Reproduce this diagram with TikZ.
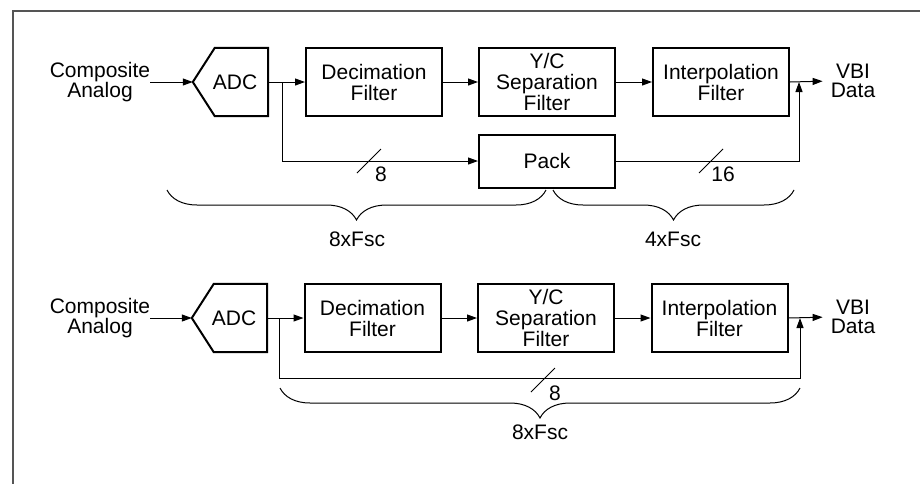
\documentclass[tikz,border=0pt]{standalone}
\usepackage{fontspec}
\setmainfont{Liberation Sans}
\usetikzlibrary{arrows.meta,decorations.pathreplacing}

\definecolor{framegray}{RGB}{85,85,85}

\tikzset{
	block/.style={draw,line width=2pt,minimum width=136pt,minimum height=68pt,align=center,inner sep=0pt},
	adcbox/.style={inner sep=0pt,minimum width=75pt,minimum height=68pt},
	iotext/.style={align=center,inner sep=0pt},
	sig/.style={line width=1pt,-{Triangle[length=10pt,width=7pt]}},
	wire/.style={line width=1pt},
	fscbrace/.style={line width=1pt,decorate,decoration={brace,amplitude=30pt,mirror}},
}

% bus width mark: name, x, y, label
\newcommand{\busmark}[4]{%
	\draw[wire] (#2-12,#3+12) -- (#2+12,#3-12);
	\node[inner sep=0pt] (#1) at (#2+12,#3+13) {#4};}

% ADC outline with the point on the left
\newcommand{\adcoutline}[1]{%
	\draw[line width=2pt] ([xshift=22pt]#1.north west) -- (#1.north east) -- (#1.south east)
		-- ([xshift=22pt]#1.south west) -- (#1.west) -- cycle;}

\begin{document}
\begin{tikzpicture}[x=1pt,y=-1pt,font=\fontsize{21}{21}\selectfont]
	\useasboundingbox (0,0) rectangle (920,483);
	\draw[line width=2pt,framegray] (930,11) -- (13,11) -- (13,495);

	% upper chain
	\node[iotext,font=\fontsize{21}{17}\selectfont] (compA) at (100,82) {Composite\\Analog};
	\node[adcbox] (adcA) at (230.5,82) {\hspace*{9pt}ADC};
	\adcoutline{adcA}
	\node[block] (decA) at (374,82) {Decimation\\Filter};
	\node[block] (ycA) at (547,82) {Y/C\\Separation\\Filter};
	\node[block] (intA) at (721,82) {Interpolation\\Filter};
	\node[iotext,font=\fontsize{21}{19}\selectfont] (vbiA) at (853,81) {VBI\\Data};
	\node[block,minimum height=53pt] (packA) at (547,161) {Pack};
	\coordinate (brA) at (282,82);
	\coordinate (tapA) at (799,82);

	\draw[sig] (compA.east) -- (adcA.west);
	\draw[sig] (adcA.east) -- (decA.west);
	\draw[sig] (decA) -- (ycA);
	\draw[sig] (ycA) -- (intA);
	\draw[sig,shorten >=8pt] (intA.east) -- (vbiA.west);
	\draw[sig] (brA) |- (packA.west);
	\draw[sig] (packA.east) -| (tapA);
	\busmark{bitsA}{369}{161}{8}
	\busmark{bitsP}{711}{161}{16}

	\draw[fscbrace] (167,190) -- (546,190);
	\draw[fscbrace] (553,190) -- (794,190);
	\node (rateA) at (357,239) {8xFsc};
	\node (rateP) at (673,239) {4xFsc};

	% lower chain
	\node[iotext,font=\fontsize{21}{17}\selectfont] (compB) at (100,318) {Composite\\Analog};
	\node[adcbox] (adcB) at (229.5,318) {\hspace*{9pt}ADC};
	\adcoutline{adcB}
	\node[block] (decB) at (372.5,318) {Decimation\\Filter};
	\node[block] (ycB) at (546,318) {Y/C\\Separation\\Filter};
	\node[block] (intB) at (719.5,318) {Interpolation\\Filter};
	\node[iotext,font=\fontsize{21}{19}\selectfont] (vbiB) at (853,317) {VBI\\Data};
	\coordinate (brB) at (279,318);
	\coordinate (busB) at (279,378);
	\coordinate (tapB) at (800,318);

	\draw[sig] (compB.east) -- (adcB.west);
	\draw[sig] (adcB.east) -- (decB.west);
	\draw[sig] (decB) -- (ycB);
	\draw[sig] (ycB) -- (intB);
	\draw[sig,shorten >=8pt] (intB.east) -- (vbiB.west);
	\draw[sig] (brB) -- (busB) -| (tapB);
	\busmark{bitsB}{543}{380}{8}

	\draw[fscbrace] (280,388) -- (800,388);
	\node (rateB) at (540,432) {8xFsc};
\end{tikzpicture}
\end{document}
